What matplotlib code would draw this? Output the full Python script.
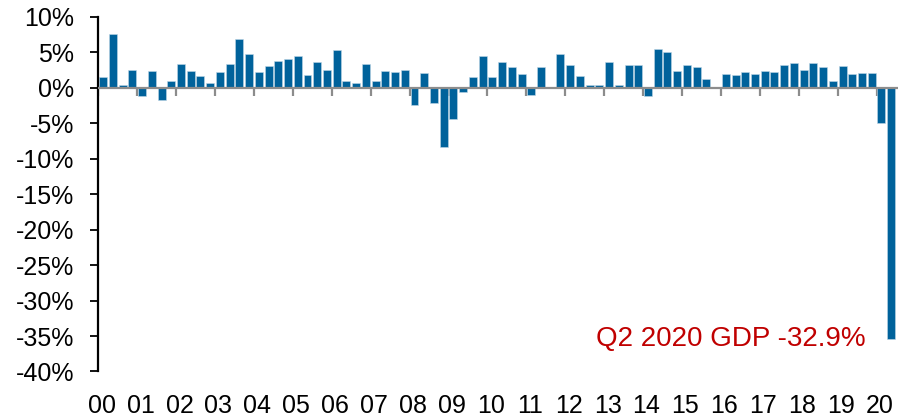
import matplotlib
matplotlib.use("Agg")
import matplotlib.pyplot as plt
import numpy as np

plt.rcParams['font.family'] = ['Liberation Sans', 'DejaVu Sans']

years = ["00", "01", "02", "03", "04", "05", "06", "07", "08", "09", "10",
         "11", "12", "13", "14", "15", "16", "17", "18", "19", "20"]
# quarterly real GDP growth, annualized %, 2000Q1 .. 2020Q2
growth = [1.5, 7.5, 0.4, 2.5,
          -1.1, 2.4, -1.7, 1.0,
          3.4, 2.4, 1.7, 0.6,
          2.2, 3.4, 6.9, 4.7,
          2.2, 3.1, 3.8, 4.1,
          4.5, 1.8, 3.6, 2.5,
          5.3, 0.9, 0.6, 3.4,
          0.9, 2.3, 2.2, 2.5,
          -2.4, 2.1, -2.1, -8.4,
          -4.4, -0.6, 1.5, 4.5,
          1.5, 3.6, 2.9, 1.9,
          -1.0, 2.9, -0.1, 4.7,
          3.2, 1.7, 0.4, 0.4,
          3.6, 0.4, 3.2, 3.2,
          -1.1, 5.5, 5.0, 2.3,
          3.2, 2.9, 1.2, 0.1,
          2.0, 1.8, 2.2, 2.0,
          2.3, 2.2, 3.2, 3.5,
          2.5, 3.5, 2.9, 1.0,
          3.1, 2.0, 2.1, 2.1,
          -5.0, -35.4]
yticks = [10, 5, 0, -5, -10, -15, -20, -25, -30, -35, -40]
annotation = "Q2 2020 GDP -32.9%"

fig = plt.figure(figsize=(8.98, 4.19), dpi=100)
ax = fig.add_axes([0.1095, 0.1134, 0.8905, 0.8466])

x = np.arange(len(growth))
ax.bar(x, growth, width=0.82, color='#00629B', edgecolor='#BFD6E6',
       linewidth=0.4, zorder=2)

# zero line
ax.axhline(0, color='#8C8C8C', linewidth=1.6, zorder=3)
# year boundary ticks on zero line
for k in range(len(years)):
    ax.plot([4 * k - 0.5, 4 * k - 0.5], [0, -1.1], color='#8C8C8C',
            linewidth=1.6, zorder=1, solid_capstyle='butt')

ax.set_xlim(-0.5, 81.7)
ax.set_ylim(-40, 10)

ax.set_yticks(yticks)
ax.set_yticklabels([f"{v}%" for v in yticks])
ax.set_xticks(np.arange(len(years)) * 4 - 0.15)
ax.set_xticklabels(years)

ax.tick_params(axis='y', length=5.5, width=1.3, color='black', labelsize=18, pad=12)
ax.tick_params(axis='x', length=0, labelsize=18, pad=16)

for s in ['top', 'right', 'bottom']:
    ax.spines[s].set_visible(False)
ax.spines['left'].set_linewidth(1.6)
ax.spines['left'].set_color('black')

ax.text(78.4, -35.45, annotation, color='#C00000', fontsize=20,
        ha='right', va='center')

fig.savefig("out.png", dpi=100)
